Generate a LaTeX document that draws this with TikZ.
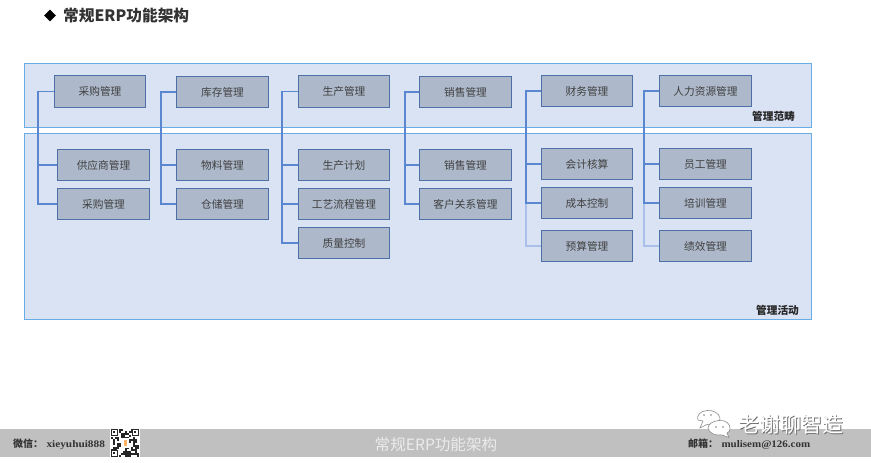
\documentclass[tikz,border=0pt]{standalone}
\usepackage{graphicx}
\usepackage{fontspec}
\setmainfont{Noto Sans CJK SC}
\newfontfamily\latinserif{Liberation Serif}
\usetikzlibrary{shapes.geometric}
\definecolor{panelfill}{HTML}{DAE3F3}
\definecolor{panelline}{HTML}{69ADE6}
\definecolor{boxfill}{HTML}{ADB9CA}
\definecolor{boxline}{HTML}{4F70A6}
\definecolor{connline}{HTML}{5B86D0}
\definecolor{connlight}{HTML}{A9C0EA}
\definecolor{barfill}{HTML}{C0C0C0}
\definecolor{labeltext}{HTML}{404040}
\tikzset{
  panel/.style={draw=panelline,fill=panelfill,line width=1.2pt,minimum width=787pt,inner sep=0pt,anchor=north west},
  fbox/.style={draw=boxline,fill=boxfill,line width=1.4pt,minimum width=91.5pt,minimum height=31.5pt,inner sep=0pt,text=labeltext,font=\fontsize{10.7pt}{12pt}\selectfont},
  conn/.style={draw=connline,line width=1.1pt},
  connl/.style={draw=connlight,line width=1.1pt},
  tag/.style={font=\fontsize{10.7pt}{12pt}\selectfont\bfseries,text=black!85,inner sep=0pt},
  bartext/.style={font=\fontsize{10pt}{12pt}\selectfont\bfseries,text=black!80,inner sep=0pt},
}
\begin{document}
\begin{tikzpicture}[x=1pt,y=-1pt]
\useasboundingbox (0,0) rectangle (871,463);
% title
\node[diamond,fill=black,minimum width=12pt,minimum height=12pt,inner sep=0pt] (mark) at (50,15.5) {};
\node[anchor=west,inner sep=0pt,font=\fontsize{15.7pt}{17pt}\selectfont\bfseries,text=black!80] (title) at (63,16) {常规ERP功能架构};
% panels
\node[panel,minimum height=64pt] (scope) at (24,63) {};
\node[panel,minimum height=186pt] (act) at (24,133) {};
\node[tag] (scopetag) at (773.5,116) {管理范畴};
\node[tag] (acttag) at (777.5,310) {管理活动};
% trunk corners
\coordinate (t1) at (38,91.5);
\coordinate (t2) at (161,92);
\coordinate (t3) at (282,91.5);
\coordinate (t4) at (405,92);
\coordinate (t5) at (526,91);
\coordinate (t6) at (644,91);
% boxes
\node[fbox] (a0) at (100,91.5) {采购管理};
\node[fbox] (a1) at (103.5,165) {供应商管理};
\node[fbox] (a2) at (103.5,204) {采购管理};
\node[fbox] (b0) at (222.5,92) {库存管理};
\node[fbox] (b1) at (222.5,165) {物料管理};
\node[fbox] (b2) at (222.5,204) {仓储管理};
\node[fbox] (c0) at (344,91.5) {生产管理};
\node[fbox] (c1) at (344,165) {生产计划};
\node[fbox] (c2) at (344,204) {工艺流程管理};
\node[fbox] (c3) at (344,243) {质量控制};
\node[fbox] (d0) at (465.5,92) {销售管理};
\node[fbox] (d1) at (465.5,165) {销售管理};
\node[fbox] (d2) at (465.5,204) {客户关系管理};
\node[fbox] (e0) at (587,91) {财务管理};
\node[fbox] (e1) at (587,164) {会计核算};
\node[fbox] (e2) at (587,203) {成本控制};
\node[fbox] (e3) at (587,246) {预算管理};
\node[fbox] (f0) at (705.5,91) {人力资源管理};
\node[fbox] (f1) at (705.5,164) {员工管理};
\node[fbox] (f2) at (705.5,203) {培训管理};
\node[fbox] (f3) at (705.5,246) {绩效管理};
% connectors
\draw[connl] (t5) |- (e3.west);
\draw[connl] (t6) |- (f3.west);
\draw[conn] (a0.west) -- (t1) |- (a1.west);
\draw[conn] (t1) |- (a2.west);
\draw[conn] (b0.west) -- (t2) |- (b1.west);
\draw[conn] (t2) |- (b2.west);
\draw[conn] (c0.west) -- (t3) |- (c1.west);
\draw[conn] (t3) |- (c2.west);
\draw[conn] (t3) |- (c3.west);
\draw[conn] (d0.west) -- (t4) |- (d1.west);
\draw[conn] (t4) |- (d2.west);
\draw[conn] (e0.west) -- (t5) |- (e1.west);
\draw[conn] (t5) |- (e2.west);
\draw[conn] (f0.west) -- (t6) |- (f1.west);
\draw[conn] (t6) |- (f2.west);
% footer bar
\fill[barfill] (0,428.5) rectangle (871,457);
\node[bartext,anchor=west] (wechat) at (13,444) {微信：\,\,{\latinserif\scalebox{1.13}[1.0]{xieyuhui888}}};
\node[anchor=center,inner sep=0pt,font=\fontsize{15.6pt}{17pt}\selectfont,text=white!92!black] (bartitle) at (436,444.5) {常规ERP功能架构};
\node[bartext,anchor=west] (mail) at (688,444) {邮箱：\,\,{\latinserif\scalebox{1.1}[1.0]{mulisem@126.com}}};
% QR code
\fill[white] (110,428) rectangle (139.5,457);
\pgfmathsetseed{7}
\foreach \i in {0,...,13}{\foreach \j in {0,...,13}{
  \pgfmathparse{rnd<0.5?1:0}
  \ifnum\pgfmathresult=1 \fill[black!85] ({110.5+2*\i},{428.5+2*\j}) rectangle ++(2,2);\fi
}}
\foreach \qx/\qy in {110.5/428.5,131.5/428.5,110.5/449.5}{
  \fill[white] (\qx,\qy) rectangle ++(8,8);
  \draw[black!85,line width=1pt] (\qx+.5,\qy+.5) rectangle ++(6,6);
  \fill[black!85] (\qx+2.5,\qy+2.5) rectangle ++(2,2);
}
\fill[white] (121,437.5) rectangle (129,447.5);
\fill[orange!60!white] (123.5,439.5) rectangle (126.5,445.5);
% watermark
\begin{scope}[draw=black!45,fill=white,line width=.6pt]
  \filldraw (703,421) -- (700,428) -- (707,424.5) .. controls (716,426) and (721,421) .. (720,418) .. controls (719,413) and (713,410) .. (707,410.5) .. controls (700,411) and (696,416) .. (698,420) -- cycle;
  \filldraw (719,420.5) .. controls (725,419.5) and (731,424) .. (730,429) .. controls (730,431) and (729,432) .. (727,433) -- (729,437.5) -- (722,435) .. controls (715,436) and (709,433) .. (708,428) .. controls (708,424) and (713,421) .. (719,420.5) -- cycle;
\end{scope}
\fill[black!50] (704,415) circle (.9) (711,415) circle (.9) (716,427) circle (.9) (723,427) circle (.9);
\node[anchor=west,inner sep=0pt,font=\fontsize{21pt}{24pt}\selectfont,text=black!55] (wmshadow) at (738.8,425.8) {老谢聊智造};
\node[anchor=west,inner sep=0pt,font=\fontsize{21pt}{24pt}\selectfont,text=white] (wm) at (738,425) {老谢聊智造};
\end{tikzpicture}
\end{document}
